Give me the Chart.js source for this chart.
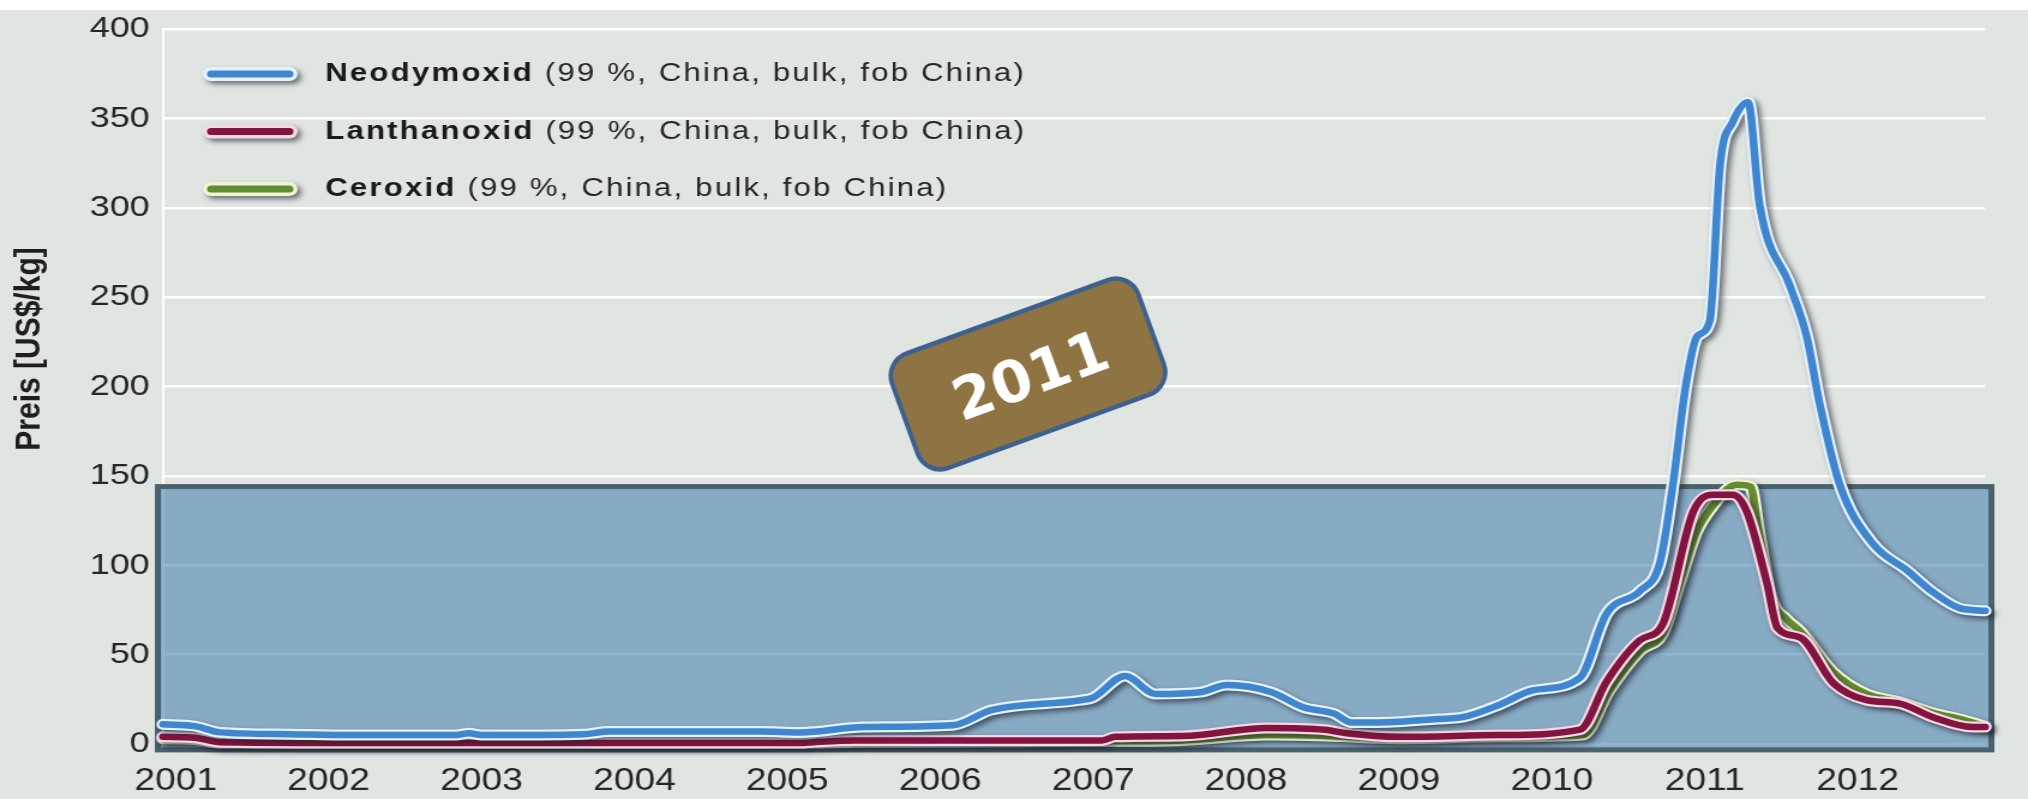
<!DOCTYPE html>
<html>
<head>
<meta charset="utf-8">
<script src="https://cdn.jsdelivr.net/npm/chart.js@4.4.1/dist/chart.umd.min.js"></script>
<style>
html,body{margin:0;padding:0;background:#e1e5e1;overflow:hidden;width:2028px;height:799px;}
#wrap{position:absolute;left:0;top:0;width:1690px;height:799px;transform:scaleX(1.2);transform-origin:0 0;}
canvas{display:block;}
</style>
</head>
<body>
<div id="wrap"><canvas id="c" width="1690" height="799"></canvas></div>
<script>
// ---------- data ----------
const years = [2001,2002,2003,2004,2005,2006,2007,2008,2009,2010,2011,2012];
const yTicks = [0,50,100,150,200,250,300,350,400];
const seriesNames = ['Neodymoxid','Lanthanoxid','Ceroxid'];
const seriesDetail = '(99 %, China, bulk, fob China)';
const axisTitle = 'Preis [US$/kg]';
const badgeText = '2011';

// months since Jan 2001, price in US$/kg
const ndMonths = [0,2.5,4.5,10,14,23,24,25,33,35,47,50,55,62,65,72,73,75.5,77.9,81.4,83.5,87,89.5,91.9,93.3,97,100,102,104.9,107.5,111.2,113.3,115.9,117.5,118.5,119.5,120.4,121.4,122.2,123.2,124.4,125.3,127.7,129,130,131.6,134.2,136.9,138.9,141,143];
const ndValues = [11,10,6.5,5.5,5,5,6,5,5.5,7,7,6.5,9.5,10.5,19,24.5,26,38,28,29,33,29,20.5,17,12,12.5,14,15,22,30,37,73,85.5,102,145,200,228,237,324,348,359,302,256,228,191,145,112,97,85,76,74.5];

const laMonths = [0,2.5,4.5,20,50,51,54.4,73.7,74.7,80,86.7,91.2,92.9,97.1,105,111.2,113.3,115.9,117.7,120.1,121.6,123.2,124.3,125.9,126.7,128.5,131.1,133.7,136.3,138.9,142,143];
const laValues = [4,3.5,1,0.5,0.5,1,2,2,4,4.5,9,8,6,4,5,8,35,58,67,130,139.5,139.5,130,89.5,65,59.5,34,24.5,22.6,15,9.5,9.5];

const ceMonths = [0,2.5,4.5,50,54.4,74,80,86.7,91.2,97,105,111.4,113.5,115.9,117.7,119,120.3,121.5,123.5,124.6,125.2,126.2,127.4,128.5,131.1,133.7,136.3,138.9,141,143];
const ceValues = [3,2.5,0.5,0.5,1,1.5,2,5,4.5,3,4,5,30,52,62,90,118,132,145,144,120,82,70,63,40,28,23.5,17.5,14,10];

// ---------- styles ----------
const STRETCH = 1.2;
const coreColors = ['#3f86cf','#82143f','#648c32'];
const haloColors = ['#e4f1ff','#f3d9e3','#eef4d6'];
const HIGHLIGHT = {x0:-0.4, x1:143.5, y0:-3.3, y1:144};

function pts(ms, vs){ return ms.map((m,i)=>({x:m, y:vs[i]})); }
const series = [pts(ndMonths, ndValues), pts(laMonths, laValues), pts(ceMonths, ceValues)];

const datasets = [];
series.forEach((d,i)=>{
  const common = {data:d, pointRadius:0, fill:false, cubicInterpolationMode:'monotone', clip:false,
                  borderCapStyle:'round', borderJoinStyle:'round'};
  datasets.push(Object.assign({label:seriesNames[i], borderColor:coreColors[i], borderWidth:6.5, halo:false}, common));
  datasets.push(Object.assign({label:'', borderColor:haloColors[i], borderWidth:11, halo:true}, common));
});

const bgPlugin = {
  id:'bg',
  beforeDraw(chart){
    const c = chart.ctx;
    c.save();
    c.fillStyle = '#e1e5e1';
    c.fillRect(0,0,chart.width,chart.height);
    c.fillStyle = '#ffffff';
    c.fillRect(0,0,chart.width,10);
    c.restore();
  },
  beforeDatasetsDraw(chart){
    const c = chart.ctx, x = chart.scales.x, y = chart.scales.y;
    const l = x.getPixelForValue(HIGHLIGHT.x0), r = x.getPixelForValue(HIGHLIGHT.x1);
    const t = y.getPixelForValue(HIGHLIGHT.y1), b = y.getPixelForValue(HIGHLIGHT.y0);
    c.save();
    c.fillStyle = 'rgba(80,135,177,0.62)';
    c.fillRect(l,t,r-l,b-t);
    c.strokeStyle = '#4a626e';
    c.lineWidth = 5;
    c.strokeRect(l,t,r-l,b-t);
    c.restore();
  },
  beforeDatasetDraw(chart,args){
    const ds = chart.data.datasets[args.index];
    if (ds.halo){
      const c = chart.ctx;
      c.save();
      c.shadowColor = 'rgba(25,30,40,0.6)';
      c.shadowBlur = 5;
      c.shadowOffsetX = 3;
      c.shadowOffsetY = 3;
    }
  },
  afterDatasetDraw(chart,args){
    const ds = chart.data.datasets[args.index];
    if (ds.halo) chart.ctx.restore();
  },
  afterDraw(chart){
    const c = chart.ctx;
    // y axis title
    c.save();
    c.translate(25,349);
    c.rotate(-Math.PI/2);
    c.font = 'bold 30px "Liberation Sans", Arial, sans-serif';
    c.fillStyle = '#1e1e1e';
    c.textAlign = 'center';
    c.textBaseline = 'middle';
    c.fillText(axisTitle,0,0);
    c.restore();

    // legend
    const LX1 = 176, LX2 = 241, TX = 271, TOP = 74, STEP = 57.5;
    seriesNames.forEach((name,i)=>{
      const yy = TOP + i*STEP;
      c.save();
      c.lineCap = 'round';
      c.shadowColor = 'rgba(25,30,40,0.6)';
      c.shadowBlur = 5; c.shadowOffsetX = 3; c.shadowOffsetY = 3;
      c.strokeStyle = haloColors[i];
      c.lineWidth = 14;
      c.beginPath(); c.moveTo(LX1,yy); c.lineTo(LX2,yy); c.stroke();
      c.restore();
      c.save();
      c.lineCap = 'round';
      c.strokeStyle = coreColors[i];
      c.lineWidth = 7;
      c.beginPath(); c.moveTo(LX1,yy); c.lineTo(LX2,yy); c.stroke();
      c.restore();

      c.save();
      c.textBaseline = 'middle';
      c.textAlign = 'left';
      c.fillStyle = '#1a1a1a';
      try { c.letterSpacing = '1.8px'; } catch(e) {}
      c.font = 'bold 26px "Liberation Sans", Arial, sans-serif';
      c.fillText(name, TX, yy);
      const w = c.measureText(name).width;
      c.font = '26px "Liberation Sans", Arial, sans-serif';
      c.fillStyle = '#262626';
      c.fillText(' ' + seriesDetail, TX + w, yy);
      c.restore();
    });

    // badge (drawn unstretched)
    c.save();
    c.scale(1/STRETCH,1);
    c.translate(1028,374);
    c.rotate(-20*Math.PI/180);
    c.beginPath();
    c.roundRect(-131,-61,262,122,24);
    c.fillStyle = '#8f7443';
    c.fill();
    c.lineWidth = 4.5;
    c.strokeStyle = '#3c6090';
    c.stroke();
    c.fillStyle = '#ffffff';
    c.font = 'bold 58px "DejaVu Sans", sans-serif';
    c.textAlign = 'center';
    c.textBaseline = 'alphabetic';
    c.fillText(badgeText, 2, 22);
    c.restore();
  }
};

new Chart(document.getElementById('c'), {
  type:'line',
  data:{datasets},
  options:{
    responsive:false,
    animation:false,
    devicePixelRatio:1,
    layout:{padding:{top:24,right:35.8,left:0,bottom:0}},
    plugins:{legend:{display:false}, tooltip:{enabled:false}},
    scales:{
      x:{
        type:'linear', min:0, max:143,
        afterBuildTicks(s){ s.ticks = years.map(y=>({value:(y-years[0])*12+1})); },
        afterFit(s){ s.height = 55; },
        grid:{display:false, drawTicks:false},
        border:{display:false},
        ticks:{autoSkip:false, maxRotation:0, padding:19, color:'#262626',
               font:{family:'"Liberation Sans", Arial, sans-serif', size:31},
               callback:(v)=>String(years[0] + Math.floor(v/12))}
      },
      y:{
        min:0, max:400,
        afterBuildTicks(s){ s.ticks = yTicks.map(v=>({value:v})); },
        afterFit(s){ s.width = 135.8; },
        grid:{color:'rgba(255,255,255,0.95)', lineWidth:2.5, drawTicks:false},
        border:{display:true, color:'#ffffff', width:2},
        ticks:{padding:11, color:'#262626',
               font:{family:'"Liberation Sans", Arial, sans-serif', size:30}}
      }
    }
  },
  plugins:[bgPlugin]
});
</script>
</body>
</html>
